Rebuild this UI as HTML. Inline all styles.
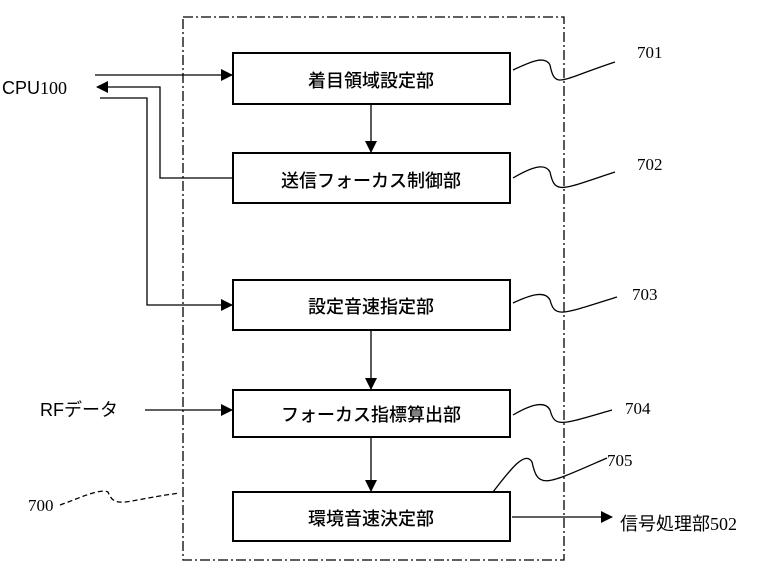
<!DOCTYPE html>
<html><head><meta charset="utf-8"><style>
body{margin:0;background:#fff}
svg text{font-family:"Liberation Sans","Noto Sans CJK JP",sans-serif;fill:#000}
.s{font-family:"Liberation Serif","Noto Sans CJK JP",serif}
</style></head><body>
<svg width="765" height="566" viewBox="0 0 765 566" xmlns="http://www.w3.org/2000/svg">
<defs><marker id="a" markerWidth="12" markerHeight="12" refX="11" refY="6" orient="auto" markerUnits="userSpaceOnUse"><path d="M0,0L12,6L0,12z" fill="#000"/></marker></defs>
<rect x="183" y="17" width="381" height="543" fill="none" stroke="#000" stroke-width="1.3" stroke-dasharray="10,3,2,3"/>
<g fill="none" stroke="#000" stroke-width="2">
<rect x="233" y="53" width="277" height="51"/>
<rect x="233" y="153" width="277" height="50"/>
<rect x="233" y="280" width="277" height="50"/>
<rect x="233" y="390" width="277" height="47"/>
<rect x="233" y="492" width="277" height="49"/>
</g>
<g fill="none" stroke="#000" stroke-width="1.3">
<line x1="95" y1="75" x2="232" y2="75" marker-end="url(#a)"/>
<polyline points="233,178 160,178 160,87 97,87" marker-end="url(#a)"/>
<polyline points="100,98 147,98 147,305 232,305" marker-end="url(#a)"/>
<line x1="371" y1="104" x2="371" y2="152" marker-end="url(#a)"/>
<line x1="371" y1="330" x2="371" y2="389" marker-end="url(#a)"/>
<line x1="371" y1="437" x2="371" y2="491" marker-end="url(#a)"/>
<line x1="145" y1="410" x2="232" y2="410" marker-end="url(#a)"/>
<line x1="512" y1="517" x2="612" y2="517" marker-end="url(#a)"/>
<path d="M513,70 C530,62 545,55 550,65 C555,90 560,80 615,62"/>
<path d="M513,178 C530,168 545,162 550,172 C555,195 560,190 615,172"/>
<path d="M513,303 C530,295 545,290 550,300 C555,318 560,315 617,297"/>
<path d="M513,415 C530,405 545,400 550,410 C555,428 560,425 612,410"/>
<path d="M493,492 C510,470 525,450 532,462 C538,490 545,485 607,458"/>
<path d="M60,505 C80,498 100,488 108,492 C115,510 125,500 180,493" stroke-dasharray="5,3"/>
</g>
<text x="2" y="94" font-size="18">CPU<tspan class="s">100</tspan></text>
<text x="40" y="416" font-size="18">RFデータ</text>
<text x="620" y="530" font-size="18">信号処理部<tspan class="s">502</tspan></text>
<g font-size="18" text-anchor="middle" font-weight="500">
<text x="371" y="87">着目領域設定部</text>
<text x="371" y="187">送信フォーカス制御部</text>
<text x="371" y="313">設定音速指定部</text>
<text x="371" y="421">フォーカス指標算出部</text>
<text x="371" y="525">環境音速決定部</text>
</g>
<g class="s" font-size="17">
<text x="637" y="58" class="s">701</text>
<text x="637" y="170" class="s">702</text>
<text x="632" y="300" class="s">703</text>
<text x="625" y="414" class="s">704</text>
<text x="607" y="466" class="s">705</text>
<text x="28" y="511" class="s">700</text>
</g>
</svg>
</body></html>
